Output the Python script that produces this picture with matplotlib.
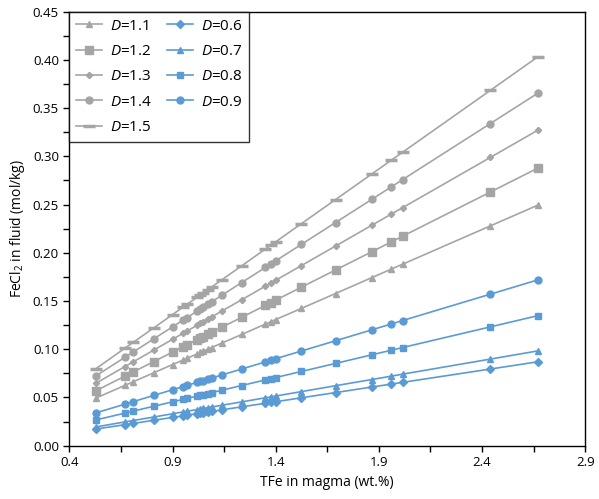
import matplotlib
matplotlib.use("Agg")
import matplotlib.pyplot as plt
from matplotlib.ticker import FixedLocator, MultipleLocator, FormatStrFormatter

plt.rcParams['font.family'] = ['Open Sans', 'DejaVu Sans']
plt.rcParams['mathtext.fontset'] = 'custom'
plt.rcParams['mathtext.it'] = 'Open Sans:italic'
plt.rcParams['mathtext.rm'] = 'Open Sans'

tfe = [0.53, 0.67, 0.71, 0.81, 0.90, 0.95, 0.97, 1.02, 1.035, 1.05, 1.07, 1.09,
       1.14, 1.235, 1.35, 1.375, 1.40, 1.525, 1.69, 1.865, 1.96, 2.015, 2.44, 2.67]

d15 = [0.0800, 0.1012, 0.1072, 0.1223, 0.1359, 0.1435, 0.1465, 0.1540, 0.1563, 0.1586, 0.1616, 0.1646,
       0.1721, 0.1865, 0.2039, 0.2076, 0.2114, 0.2303, 0.2552, 0.2816, 0.2960, 0.3043, 0.3684, 0.4032]
d14 = [0.0726, 0.0917, 0.0972, 0.1109, 0.1232, 0.1301, 0.1328, 0.1396, 0.1417, 0.1437, 0.1465, 0.1492,
       0.1561, 0.1691, 0.1848, 0.1882, 0.1917, 0.2088, 0.2314, 0.2553, 0.2683, 0.2759, 0.3340, 0.3655]
d13 = [0.0649, 0.0821, 0.0870, 0.0992, 0.1103, 0.1164, 0.1188, 0.1250, 0.1268, 0.1286, 0.1311, 0.1335,
       0.1397, 0.1513, 0.1654, 0.1684, 0.1715, 0.1868, 0.2070, 0.2285, 0.2401, 0.2468, 0.2989, 0.3271]
d12 = [0.0571, 0.0722, 0.0765, 0.0873, 0.0970, 0.1024, 0.1046, 0.1100, 0.1116, 0.1132, 0.1153, 0.1175,
       0.1229, 0.1331, 0.1455, 0.1482, 0.1509, 0.1644, 0.1822, 0.2010, 0.2113, 0.2172, 0.2630, 0.2878]
d11 = [0.0495, 0.0626, 0.0663, 0.0757, 0.0841, 0.0887, 0.0906, 0.0953, 0.0967, 0.0981, 0.0999, 0.1018,
       0.1065, 0.1153, 0.1261, 0.1284, 0.1308, 0.1424, 0.1578, 0.1742, 0.1831, 0.1882, 0.2279, 0.2494]
d09 = [0.0341, 0.0431, 0.0457, 0.0522, 0.0580, 0.0612, 0.0625, 0.0657, 0.0667, 0.0676, 0.0689, 0.0702,
       0.0734, 0.0795, 0.0869, 0.0886, 0.0902, 0.0982, 0.1088, 0.1201, 0.1262, 0.1298, 0.1571, 0.1719]
d08 = [0.0268, 0.0338, 0.0359, 0.0409, 0.0455, 0.0480, 0.0490, 0.0515, 0.0523, 0.0530, 0.0540, 0.0550,
       0.0576, 0.0624, 0.0682, 0.0694, 0.0707, 0.0770, 0.0853, 0.0942, 0.0990, 0.1018, 0.1232, 0.1348]
d07 = [0.0195, 0.0247, 0.0261, 0.0298, 0.0331, 0.0350, 0.0357, 0.0375, 0.0381, 0.0386, 0.0394, 0.0401,
       0.0420, 0.0454, 0.0497, 0.0506, 0.0515, 0.0561, 0.0622, 0.0686, 0.0721, 0.0742, 0.0898, 0.0983]
d06 = [0.0173, 0.0218, 0.0231, 0.0264, 0.0293, 0.0310, 0.0316, 0.0333, 0.0337, 0.0342, 0.0349, 0.0355,
       0.0372, 0.0403, 0.0440, 0.0448, 0.0456, 0.0497, 0.0551, 0.0608, 0.0639, 0.0657, 0.0795, 0.0870]

x_major = [0.4, 0.9, 1.4, 1.9, 2.4, 2.9]
x_minor = [0.65, 1.15, 1.65, 2.15, 2.65]

gray = '#A5A5A5'
blue = '#5B9BD5'

fig = plt.figure(figsize=(5.99, 4.99), dpi=100)
ax = fig.add_axes([0.1157, 0.1068, 0.8614, 0.8698])

series = [
    (d11, r'$D$=1.1', gray, '^', 4.5, 1.0),
    (d12, r'$D$=1.2', gray, 's', 5.5, 1.0),
    (d13, r'$D$=1.3', gray, 'D', 3.2, 1.0),
    (d14, r'$D$=1.4', gray, 'o', 5.0, 1.0),
    (d15, r'$D$=1.5', gray, '_', 8.0, 2.5),
    (d06, r'$D$=0.6', blue, 'D', 4.0, 1.0),
    (d07, r'$D$=0.7', blue, '^', 5.0, 1.0),
    (d08, r'$D$=0.8', blue, 's', 5.0, 1.0),
    (d09, r'$D$=0.9', blue, 'o', 5.0, 1.0),
]
for ys, lab, col, mk, ms, mew in series:
    ax.plot(tfe, ys, color=col, marker=mk, markersize=ms, markeredgewidth=mew,
            markeredgecolor=col, markerfacecolor=col, linewidth=1.2, label=lab)

ax.set_xlim(0.4, 2.9)
ax.set_ylim(0.0, 0.45)
ax.xaxis.set_major_locator(FixedLocator(x_major))
ax.xaxis.set_minor_locator(FixedLocator(x_minor))
ax.yaxis.set_major_locator(MultipleLocator(0.05))
ax.yaxis.set_minor_locator(MultipleLocator(0.025))
ax.xaxis.set_major_formatter(FormatStrFormatter('%.1f'))
ax.yaxis.set_major_formatter(FormatStrFormatter('%.2f'))
ax.tick_params(which='both', direction='out', length=4, width=1, colors='black',
               labelsize=9.5, top=False, right=False)
for s in ax.spines.values():
    s.set_linewidth(1.0)
    s.set_color('black')

ax.set_xlabel('TFe in magma (wt.%)', fontsize=10)
ax.set_ylabel('FeCl$_2$ in fluid (mol/kg)', fontsize=10)

leg = ax.legend(loc='upper left', ncol=2, frameon=True, fancybox=False,
                borderaxespad=0.0, fontsize=11, handlelength=1.7,
                columnspacing=1.0, labelspacing=0.68, handletextpad=0.5,
                borderpad=0.45)
leg.get_frame().set_edgecolor('black')
leg.get_frame().set_linewidth(1.0)

fig.savefig('out.png', dpi=100)
